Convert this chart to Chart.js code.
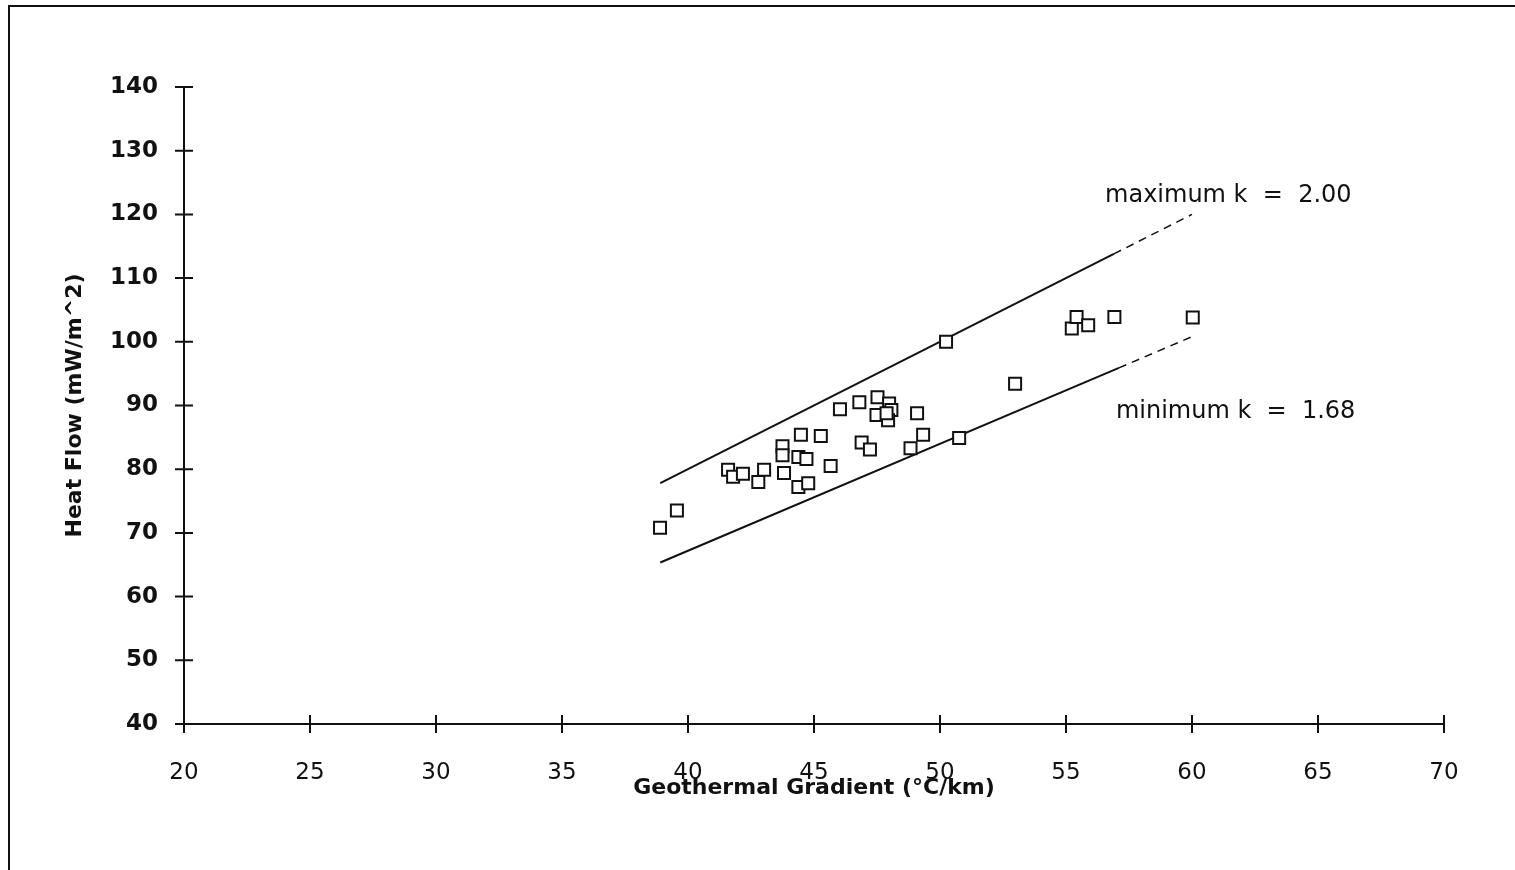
<!DOCTYPE html>
<html>
<head>
<meta charset="utf-8">
<script src="https://cdn.jsdelivr.net/npm/chart.js"></script>
<style>
  body { margin: 0; background: #fff; }
  #wrap { position: relative; width: 1515px; height: 870px; overflow: hidden; }
  #frame { position: absolute; left: 8px; top: 5px; width: 1600px; height: 1000px;
           border-top: 2px solid #111; border-left: 2px solid #111; }
  canvas { position: absolute; left: 0; top: 0; }
</style>
</head>
<body>
<div id="wrap">
  <div id="frame"></div>
  <canvas id="heatChart" width="1515" height="870"></canvas>
</div>
<script>
// Geothermal gradient (°C/km) and heat flow (mW/m^2) for each well
const gradient = [38.89, 39.56, 41.59, 41.79, 42.18, 42.79, 43.02, 43.81, 43.75, 43.75,
                  44.38, 44.70, 44.48, 45.27, 45.66, 44.38, 44.77, 46.03, 46.80, 47.52,
                  47.48, 47.98, 48.07, 47.94, 47.88, 46.89, 47.22, 49.09, 49.33, 48.83,
                  50.76, 50.24, 52.98, 55.23, 55.42, 55.88, 56.92, 60.03];
const heatFlow = [70.8, 73.5, 79.9, 78.8, 79.3, 78.0, 79.9, 79.4, 83.6, 82.2,
                  81.9, 81.6, 85.4, 85.2, 80.5, 77.2, 77.8, 89.4, 90.5, 91.3,
                  88.5, 90.3, 89.3, 87.7, 88.8, 84.2, 83.1, 88.8, 85.4, 83.3,
                  84.9, 100.0, 93.4, 102.1, 103.9, 102.6, 103.9, 103.8];

// Conductivity envelope lines (solid, then dashed for the last segment)
const maxLineX = [38.9, 56.9, 60.0];
const maxLineY = [77.8, 113.8, 120.0];
const minLineX = [38.9, 57.1, 60.0];
const minLineY = [65.35, 95.9, 100.8];

const lineLabels = [
  { text: "maximum k  =  2.00", x: 56.55, y: 123.0 },
  { text: "minimum k  =  1.68", x: 56.98, y: 89.0 }
];

const xTicks = [20, 25, 30, 35, 40, 45, 50, 55, 60, 65, 70];
const yTicks = [40, 50, 60, 70, 80, 90, 100, 110, 120, 130, 140];

const toPoints = (xs, ys) => xs.map((x, i) => ({ x: x, y: ys[i] }));

const envelope = (xs, ys) => ({
  type: "line",
  data: toPoints(xs, ys),
  borderColor: "#111",
  borderWidth: 2,
  pointRadius: 0,
  fill: false,
  order: 2,
  segment: {
    borderDash: ctx => ctx.p0DataIndex === 1 ? [8, 6] : undefined,
    borderWidth: ctx => ctx.p0DataIndex === 1 ? 1.5 : 2
  }
});

// Tick marks that straddle the axis line, plus the line labels
const crossTicks = {
  id: "crossTicks",
  afterDraw(chart) {
    const { ctx, chartArea } = chart;
    const xs = chart.scales.x, ys = chart.scales.y;
    ctx.save();
    ctx.strokeStyle = "#111";
    ctx.lineWidth = 2;
    ctx.beginPath();
    xTicks.forEach(v => {
      const px = xs.getPixelForValue(v);
      ctx.moveTo(px, chartArea.bottom - 9);
      ctx.lineTo(px, chartArea.bottom + 9);
    });
    yTicks.forEach(v => {
      const py = ys.getPixelForValue(v);
      ctx.moveTo(chartArea.left - 9, py);
      ctx.lineTo(chartArea.left + 9, py);
    });
    ctx.stroke();

    ctx.fillStyle = "#111";
    ctx.font = "24px 'DejaVu Sans'";
    ctx.textBaseline = "middle";
    ctx.textAlign = "left";
    lineLabels.forEach(l => {
      ctx.fillText(l.text, xs.getPixelForValue(l.x), ys.getPixelForValue(l.y));
    });
    ctx.restore();
  }
};

new Chart(document.getElementById("heatChart"), {
  type: "scatter",
  data: {
    datasets: [
      {
        data: toPoints(gradient, heatFlow),
        pointStyle: "rect",
        pointRadius: 8.5,
        pointBorderWidth: 2,
        pointBorderColor: "#111",
        pointBackgroundColor: "#fff",
        order: 1
      },
      envelope(maxLineX, maxLineY),
      envelope(minLineX, minLineY)
    ]
  },
  options: {
    responsive: false,
    animation: false,
    layout: { padding: { top: 87, right: 71, left: 0, bottom: 0 } },
    plugins: {
      legend: { display: false },
      tooltip: { enabled: false }
    },
    scales: {
      x: {
        type: "linear",
        min: 20,
        max: 70,
        afterFit: s => { s.height = 146; },
        afterBuildTicks: s => { s.ticks = xTicks.map(v => ({ value: v })); },
        grid: { display: false, drawTicks: false },
        border: { display: true, color: "#111", width: 2 },
        ticks: {
          padding: 35,
          color: "#111",
          font: { family: "DejaVu Sans", size: 23 }
        },
        title: {
          display: true,
          text: "Geothermal Gradient (°C/km)",
          color: "#111",
          padding: { top: 0, bottom: 69 },
          font: { family: "DejaVu Sans", size: 22, weight: "bold" }
        }
      },
      y: {
        type: "linear",
        min: 40,
        max: 140,
        afterFit: s => { s.width = 184; },
        afterBuildTicks: s => { s.ticks = yTicks.map(v => ({ value: v })); },
        grid: { display: false, drawTicks: false },
        border: { display: true, color: "#111", width: 2 },
        ticks: {
          padding: 26,
          color: "#111",
          font: { family: "DejaVu Sans", size: 23, weight: "bold" }
        },
        title: {
          display: true,
          text: "Heat Flow (mW/m^2)",
          color: "#111",
          padding: { top: 62, bottom: 0 },
          font: { family: "DejaVu Sans", size: 22, weight: "bold" }
        }
      }
    }
  },
  plugins: [crossTicks]
});
</script>
</body>
</html>
